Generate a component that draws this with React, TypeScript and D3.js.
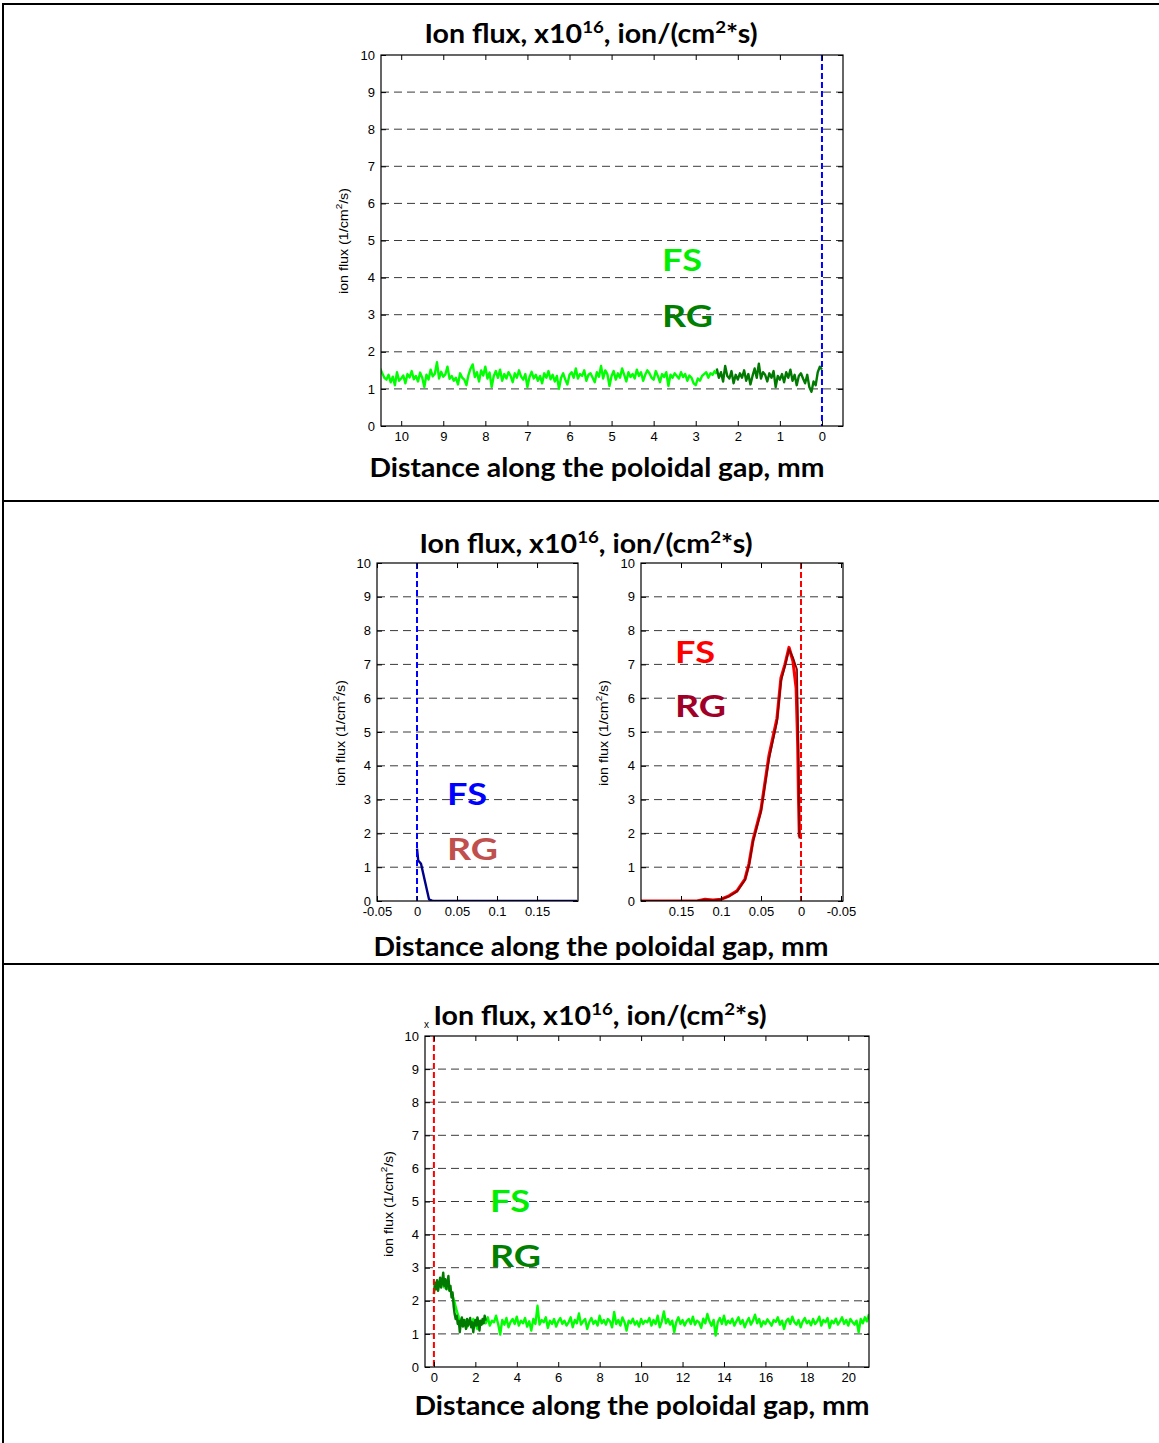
import React, { useEffect, useRef } from 'react';
import * as d3 from 'd3';

// y axis is the same in every panel
const yTicks = [0, 1, 2, 3, 4, 5, 6, 7, 8, 9, 10];
const gridLevels = [1, 2, 3, 4, 5, 6, 7, 8, 9];

// top panel: distance runs 10 -> 0 mm
const topXTicks = [10, 9, 8, 7, 6, 5, 4, 3, 2, 1, 0];
const topFsStart = 10.5;
const topFsStep = -0.05;
const topFs = [
    1.55, 1.42, 1.30, 1.25, 1.38, 1.18, 1.33, 1.10, 1.45, 1.22, 1.28, 1.36, 1.15, 1.40, 1.31, 1.48, 1.26, 1.35, 1.20, 1.44,
    1.30, 1.05, 1.38, 1.25, 1.52, 1.34, 1.41, 1.72, 1.28, 1.46, 1.33, 1.39, 1.60, 1.27, 1.35, 1.22, 1.30, 1.12, 1.42, 1.30,
    1.25, 1.10, 1.38, 1.55, 1.66, 1.32, 1.45, 1.20, 1.50, 1.36, 1.60, 1.28, 1.44, 1.05, 1.35, 1.48, 1.30, 1.52, 1.22, 1.40,
    1.28, 1.45, 1.35, 1.18, 1.42, 1.30, 1.50, 1.33, 1.25, 1.40, 1.05, 1.32, 1.46, 1.28, 1.38, 1.22, 1.35, 1.15, 1.42, 1.30,
    1.48, 1.26, 1.38, 1.20, 1.35, 1.00, 1.30, 1.42, 1.25, 1.12, 1.38, 1.45, 1.30, 1.55, 1.28, 1.40, 1.35, 1.50, 1.22, 1.38,
    1.42, 1.30, 1.18, 1.45, 1.33, 1.62, 1.28, 1.50, 1.40, 1.08, 1.35, 1.48, 1.25, 1.42, 1.30, 1.55, 1.38, 1.20, 1.45, 1.32,
    1.40, 1.28, 1.52, 1.35, 1.45, 1.22, 1.38, 1.50, 1.42, 1.30, 1.25, 1.48, 1.35, 1.18, 1.40, 1.32, 1.45, 1.08, 1.38, 1.30,
    1.42, 1.35, 1.28, 1.45, 1.32, 1.40, 1.22, 1.36, 1.30, 1.15, 1.10, 1.28, 1.22, 1.35, 1.40, 1.45, 1.30, 1.42, 1.38, 1.48,
    1.40
];
const topRgStart = 2.5;
const topRgStep = -0.05;
const topRg = [
    1.55, 1.30, 1.45, 1.20, 1.62, 1.35, 1.28, 1.48, 1.15, 1.38, 1.25, 1.42, 1.30, 1.50, 1.22, 1.40, 1.12, 1.35, 1.55, 1.30,
    1.68, 1.28, 1.45, 1.38, 1.20, 1.42, 1.30, 1.48, 1.05, 1.35, 1.25, 1.40, 1.18, 1.45, 1.30, 1.52, 1.22, 1.38, 1.10, 1.35,
    1.42, 1.28, 1.15, 1.38, 1.05, 0.92, 1.20, 1.10, 1.45, 1.60, 1.52
];

// middle left panel
const midLeftXTicks = [-0.05, 0, 0.05, 0.1, 0.15];
const midLeftX = [0, 0.0015, 0.005, 0.015, 0.02, 0.05, 0.1, 0.15, 0.2];
const midLeftRg = [1.55, 1.2, 1.1, 0.05, 0, 0, 0, 0, 0];

// middle right panel (reversed axis)
const midRightXTicks = [0.15, 0.1, 0.05, 0, -0.05];
const midRightFsX = [0.2, 0.13, 0.12, 0.11, 0.1, 0.09, 0.08, 0.07, 0.065, 0.06, 0.05, 0.04, 0.03, 0.025, 0.02, 0.015, 0.01, 0.006, 0.004, 0.003, 0.002];
const midRightFs = [0, 0, 0.05, 0.03, 0.05, 0.15, 0.3, 0.65, 1.1, 1.8, 2.7, 4.3, 5.4, 6.6, 7.0, 7.5, 7.1, 6.3, 4.6, 3.0, 1.9];
const midRightRgX = [0.2, 0.13, 0.12, 0.11, 0.1, 0.09, 0.08, 0.07, 0.065, 0.06, 0.05, 0.04, 0.03, 0.025, 0.02, 0.015, 0.01, 0.005, 0.003, 0.0025, 0.002];
const midRightRg = [0, 0, 0.04, 0.02, 0.05, 0.14, 0.28, 0.62, 1.05, 1.75, 2.65, 4.2, 5.3, 6.5, 6.95, 7.45, 7.2, 6.85, 4.0, 2.8, 1.85];

// bottom panel
const bottomXTicks = [0, 2, 4, 6, 8, 10, 12, 14, 16, 18, 20];
const bottomFsStart = 0.3;
const bottomFsStep = 0.1;
const bottomFs = [
    2.45, 2.55, 2.40, 2.60, 2.35, 2.30, 2.15, 1.95, 1.70, 1.50, 1.35, 1.28, 1.42, 1.20, 1.35, 1.25, 1.45, 1.30, 1.15, 1.38,
    1.28, 1.42, 1.32, 1.50, 1.25, 1.40, 1.35, 1.55, 1.30, 0.98, 1.42, 1.28, 1.48, 1.20, 1.36, 1.45, 1.30, 1.52, 1.25, 1.40,
    1.32, 1.48, 1.22, 1.38, 1.10, 1.45, 1.30, 1.85, 1.28, 1.42, 1.35, 1.50, 1.18, 1.40, 1.30, 1.45, 1.22, 1.38, 1.48, 1.30,
    1.40, 1.25, 1.35, 1.50, 1.20, 1.42, 1.32, 1.62, 1.28, 1.38, 1.45, 1.15, 1.36, 1.48, 1.30, 1.40, 1.25, 1.55, 1.32, 1.42,
    1.28, 1.45, 1.38, 1.20, 1.66, 1.30, 1.42, 1.25, 1.50, 1.35, 1.10, 1.40, 1.32, 1.46, 1.28, 1.38, 1.22, 1.45, 1.30, 1.40,
    1.35, 1.48, 1.25, 1.42, 1.30, 1.55, 1.20, 1.38, 1.68, 1.32, 1.45, 1.28, 1.40, 1.05, 1.36, 1.50, 1.30, 1.42, 1.25, 1.38,
    1.45, 1.30, 1.52, 1.28, 1.40, 1.35, 1.18, 1.46, 1.32, 1.60, 1.38, 1.25, 1.42, 0.95, 1.35, 1.48, 1.30, 1.55, 1.28, 1.40,
    1.32, 1.46, 1.25, 1.38, 1.50, 1.30, 1.42, 1.20, 1.36, 1.48, 1.28, 1.40, 1.58, 1.32, 1.45, 1.22, 1.38, 1.30, 1.44, 1.35,
    1.25, 1.42, 1.36, 1.50, 1.28, 1.40, 1.15, 1.38, 1.46, 1.30, 1.52, 1.35, 1.28, 1.42, 1.20, 1.38, 1.48, 1.32, 1.40, 1.26,
    1.45, 1.30, 1.38, 1.52, 1.25, 1.42, 1.35, 1.48, 1.18, 1.40, 1.32, 1.46, 1.28, 1.38, 1.50, 1.30, 1.42, 1.25, 1.45, 1.36,
    1.28, 1.40, 1.05, 1.45, 1.32, 1.50, 1.38, 1.60
];
const bottomRgStart = 0;
const bottomRgStep = 0.05;
const bottomRg = [
    2.20, 2.55, 2.35, 2.62, 2.30, 2.48, 2.70, 2.40, 2.58, 2.85, 2.45, 2.65, 2.35, 2.55, 2.75, 2.30, 2.45, 2.10, 2.25, 1.85,
    1.60, 1.45, 1.55, 1.30, 1.40, 1.05, 1.35, 1.50, 1.22, 1.42, 1.30, 1.15, 1.45, 1.25, 1.38, 1.48, 1.20, 1.35, 1.05, 1.30,
    1.42, 1.25, 1.50, 1.35, 1.10, 1.40, 1.28, 1.45, 1.32, 1.55, 1.40
];

const sampled = (start, step, values) => values.map((v, i) => ({ x: start + i * step, y: v }));
const paired = (xs, ys) => xs.map((x, i) => ({ x, y: ys[i] }));

const tickFont = "'Liberation Sans', Arial, sans-serif";
const headFont = "Lato, 'Open Sans', sans-serif";

const fmtTick = (d) => (d === 0 ? '0' : String(d));

function Panel({ id, left, top, width, height, xDomain, xTicks, series, vline, vlineColor }) {
    const ref = useRef(null);

    useEffect(() => {
        const g = d3.select(ref.current);
        g.selectAll('*').remove();

        const x = d3.scaleLinear().domain(xDomain).range([0, width]);
        const y = d3.scaleLinear().domain([0, 10]).range([height, 0]);

        g.append('clipPath').attr('id', `clip-${id}`)
            .append('rect').attr('width', width).attr('height', height);

        g.append('g').selectAll('line').data(gridLevels).join('line')
            .attr('x1', 0).attr('x2', width)
            .attr('y1', (d) => y(d)).attr('y2', (d) => y(d))
            .attr('stroke', '#3a3a3a').attr('stroke-width', 1)
            .attr('stroke-dasharray', '8,5');

        const line = d3.line().x((d) => x(d.x)).y((d) => y(d.y));
        const plot = g.append('g').attr('clip-path', `url(#clip-${id})`);
        series.forEach((s) => {
            plot.append('path')
                .attr('d', line(s.points))
                .attr('fill', 'none')
                .attr('stroke', s.color)
                .attr('stroke-width', s.width || 2.4)
                .attr('stroke-linejoin', 'round');
        });

        plot.append('line')
            .attr('x1', x(vline)).attr('x2', x(vline))
            .attr('y1', 0).attr('y2', height)
            .attr('stroke', vlineColor).attr('stroke-width', 2)
            .attr('stroke-dasharray', '6,3');

        const style = (sel) => {
            sel.select('.domain').remove();
            sel.selectAll('text').attr('font-family', tickFont).attr('font-size', 13).attr('fill', '#000');
            sel.selectAll('line').attr('stroke', '#000');
        };

        g.append('g').attr('transform', `translate(0,${height})`)
            .call(d3.axisBottom(x).tickValues(xTicks).tickFormat(fmtTick).tickSizeInner(-5).tickSizeOuter(0).tickPadding(6))
            .call(style);
        g.append('g')
            .call(d3.axisTop(x).tickValues(xTicks).tickFormat(() => '').tickSizeInner(-5).tickSizeOuter(0))
            .call(style);
        g.append('g')
            .call(d3.axisLeft(y).tickValues(yTicks).tickFormat(fmtTick).tickSizeInner(-5).tickSizeOuter(0).tickPadding(6))
            .call(style);
        g.append('g').attr('transform', `translate(${width},0)`)
            .call(d3.axisRight(y).tickValues(yTicks).tickFormat(() => '').tickSizeInner(-5).tickSizeOuter(0))
            .call(style);

        g.append('rect').attr('width', width).attr('height', height)
            .attr('fill', 'none').attr('stroke', '#000').attr('stroke-width', 1.2);
    }, []);

    return <g ref={ref} transform={`translate(${left},${top})`} />;
}

function Title({ cx, y }) {
    return (
        <text x={cx} y={y} textAnchor="middle" fontFamily={headFont} fontWeight="bold" fontSize={26}
            textLength={333} lengthAdjust="spacingAndGlyphs">
            Ion flux, x10<tspan dy={-10} fontSize={17}>16</tspan><tspan dy={10}>, ion/(cm</tspan>
            <tspan dy={-10} fontSize={17}>2</tspan><tspan dy={10}>*s)</tspan>
        </text>
    );
}

function XLabel({ cx, y }) {
    return (
        <text x={cx} y={y} textAnchor="middle" fontFamily={headFont} fontWeight="bold" fontSize={26}
            textLength={455} lengthAdjust="spacingAndGlyphs">
            Distance along the poloidal gap, mm
        </text>
    );
}

function YLabel({ x, cy }) {
    return (
        <text transform={`translate(${x},${cy}) rotate(-90)`} textAnchor="middle"
            fontFamily={tickFont} fontSize={13} textLength={106} lengthAdjust="spacingAndGlyphs">
            ion flux (1/cm<tspan dy={-6} fontSize={9}>2</tspan><tspan dy={6}>/s)</tspan>
        </text>
    );
}

function Tag({ x, y, text, color, len }) {
    return (
        <text x={x} y={y} fontFamily={headFont} fontWeight="bold" fontSize={31} fill={color}
            textLength={len} lengthAdjust="spacingAndGlyphs">{text}</text>
    );
}

export default function App() {
    return (
        <div style={{ position: 'absolute', left: 0, top: 0 }}>
            <svg width={1159} height={1443} style={{ display: 'block', background: '#fff' }}>
                {/* table rules */}
                <line x1={3} x2={3} y1={3} y2={1443} stroke="#000" strokeWidth={2} />
                <line x1={2} x2={1159} y1={4} y2={4} stroke="#000" strokeWidth={2} />
                <line x1={2} x2={1159} y1={501} y2={501} stroke="#000" strokeWidth={2} />
                <line x1={2} x2={1159} y1={964} y2={964} stroke="#000" strokeWidth={2} />

                {/* top */}
                <Title cx={591} y={43} />
                <Panel id="top" left={381} top={55} width={462} height={371}
                    xDomain={[10.48, -0.5]} xTicks={topXTicks} vline={0} vlineColor="#0000ff"
                    series={[
                        { color: '#00ff00', points: sampled(topFsStart, topFsStep, topFs) },
                        { color: '#007a00', points: sampled(topRgStart, topRgStep, topRg) }
                    ]} />
                <YLabel x={348} cy={241} />
                <Tag x={662} y={271} text="FS" color="#00ee00" len={40} />
                <Tag x={662} y={327} text="RG" color="#007f00" len={51} />
                <XLabel cx={597} y={477} />

                {/* middle */}
                <Title cx={586} y={553} />
                <Panel id="ml" left={377} top={563} width={201} height={338}
                    xDomain={[-0.05, 0.2012]} xTicks={midLeftXTicks} vline={0} vlineColor="#0000ff"
                    series={[
                        { color: '#00008b', points: paired(midLeftX, midLeftRg) }
                    ]} />
                <YLabel x={345} cy={733} />
                <Tag x={447} y={805} text="FS" color="#0000ff" len={40} />
                <Tag x={447} y={860} text="RG" color="#c0504d" len={51} />

                <Panel id="mr" left={641} top={563} width={202} height={338}
                    xDomain={[0.2, -0.0525]} xTicks={midRightXTicks} vline={0} vlineColor="#ff0000"
                    series={[
                        { color: '#ff0000', width: 3.2, points: paired(midRightFsX, midRightFs) },
                        { color: '#8b0000', width: 1.8, points: paired(midRightRgX, midRightRg) }
                    ]} />
                <YLabel x={608} cy={733} />
                <Tag x={675} y={663} text="FS" color="#ff0000" len={40} />
                <Tag x={675} y={717} text="RG" color="#a00028" len={51} />
                <XLabel cx={601} y={956} />

                {/* bottom */}
                <Title cx={600} y={1025} />
                <text x={424} y={1028} fontFamily={tickFont} fontSize={10}>x</text>
                <Panel id="bot" left={425} top={1036} width={444} height={331}
                    xDomain={[-0.43, 21]} xTicks={bottomXTicks} vline={0} vlineColor="#ff0000"
                    series={[
                        { color: '#00ff00', points: sampled(bottomFsStart, bottomFsStep, bottomFs) },
                        { color: '#007a00', points: sampled(bottomRgStart, bottomRgStep, bottomRg) }
                    ]} />
                <YLabel x={393} cy={1204} />
                <Tag x={490} y={1212} text="FS" color="#00ee00" len={40} />
                <Tag x={490} y={1267} text="RG" color="#007f00" len={51} />
                <XLabel cx={642} y={1415} />
            </svg>
        </div>
    );
}
